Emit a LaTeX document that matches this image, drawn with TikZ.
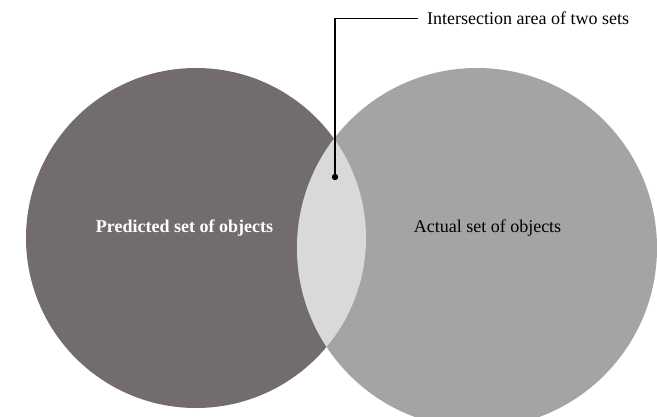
\documentclass[tikz,border=0pt]{standalone}
\usepackage{fontspec}
\setmainfont{Liberation Serif}
\definecolor{predcol}{RGB}{114,108,108}
\definecolor{actcol}{RGB}{164,164,164}
\definecolor{lenscol}{RGB}{217,217,217}
\tikzset{
  lbl/.style={inner sep=0pt, font=\fontsize{18}{21.6}\selectfont},
  leader/.style={draw=black, line width=1.2pt}
}
\begin{document}
\begin{tikzpicture}[x=1pt,y=-1pt]
\useasboundingbox (0,0) rectangle (657,417);
\fill[white] (0,0) rectangle (657,417);
\begin{scope}
\clip (0,0) rectangle (657,417);
\fill[predcol] (196,238) circle[radius=170];
\fill[actcol] (477,248) circle[radius=180];
\begin{scope}
\clip (196,238) circle[radius=170];
\fill[lenscol] (477,248) circle[radius=180];
\end{scope}
\end{scope}
\node[lbl, anchor=base, text=white, font=\fontsize{18}{21.6}\selectfont\bfseries] (pred) at (184.5,233) {Predicted set of objects};
\node[lbl, anchor=base, text=black] (act) at (487.5,233) {Actual set of objects};
\node[lbl, anchor=base west, text=black] (lab) at (427,24.5) {Intersection area of two sets};
\coordinate (dot) at (335,177);
\fill[black] (dot) circle[radius=3.2];
\draw[leader] (dot) |- ([xshift=-9pt]lab.west);
\end{tikzpicture}
\end{document}
